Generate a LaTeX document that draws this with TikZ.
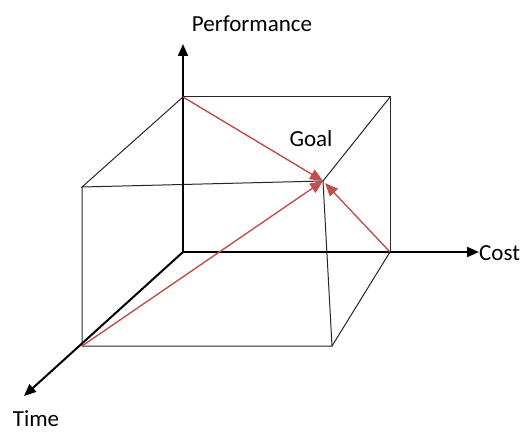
\documentclass[tikz,border=0pt]{standalone}
\usepackage{fontspec}
\setmainfont{Carlito}
\usetikzlibrary{arrows.meta}
\definecolor{goalred}{RGB}{192,80,77}

\begin{document}
\begin{tikzpicture}[
    x=1pt, y=-1pt,
    axis/.style={draw,line width=2pt,-{Triangle[length=12pt,width=10pt]}},
    edge/.style={draw,line width=1pt,black!85},
    toward/.style={draw,goalred,line width=1.4pt,-{Triangle[length=13pt,width=11pt]}},
    lbl/.style={font=\fontsize{23}{27}\selectfont,inner sep=0pt}
  ]
  \useasboundingbox (0,0) rectangle (528,433);
  % corners of the box
  \coordinate (orig) at (183,252);
  \coordinate (backtl) at (183,97);
  \coordinate (backtr) at (390,97);
  \coordinate (backbr) at (390,252);
  \coordinate (fronttl) at (82,187);
  \coordinate (goal) at (323,181);
  \coordinate (frontbl) at (82,346);
  \coordinate (frontbr) at (332,346);
  \coordinate (perftip) at (183,44);
  \coordinate (costtip) at (479,252);
  \coordinate (timetip) at (24,396);
  % labels
  \node[lbl] (perf) at (252,24) {Performance};
  \node[lbl,anchor=west] (cost) at (479,253) {Cost};
  \node[lbl] (time) at (36,419) {Time};
  \node[lbl] (goallbl) at (311,139) {Goal};
  % box
  \path[edge] (backtl) -- (backtr) -- (backbr);
  \path[edge] (backtl) -- (fronttl) -- (goal) -- (backtr);
  \path[edge] (fronttl) -- (frontbl) -- (frontbr) -- (goal);
  \path[edge] (frontbr) -- (backbr);
  % axes
  \path[axis] (orig) -- (perftip);
  \path[axis] (orig) -- (costtip);
  \path[axis] (orig) -- (timetip);
  % paths to the goal
  \path[toward] (backtl) -- (goal);
  \path[toward] (frontbl) -- (goal);
  \path[toward,shorten >=3pt] (backbr) -- (goal);
\end{tikzpicture}
\end{document}
